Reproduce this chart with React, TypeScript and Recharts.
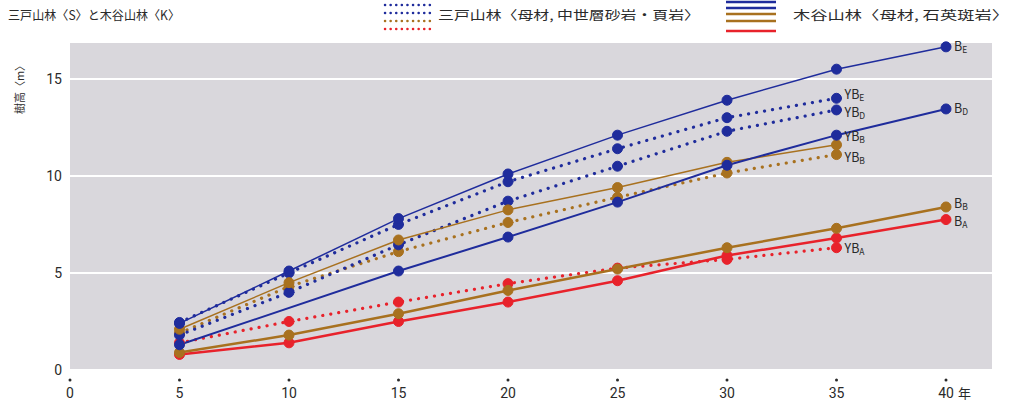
import { LineChart, Line, XAxis, YAxis, CartesianGrid } from 'recharts'

const years = [5, 10, 15, 20, 25, 30, 35, 40]
const xTicks = [0, 5, 10, 15, 20, 25, 30, 35, 40]
const yTicks = [0, 5, 10, 15]

// 木谷山林 (solid)
const bA = [0.8, 1.4, 2.5, 3.5, 4.6, 5.9, 6.8, 7.75]
const bB = [0.9, 1.8, 2.9, 4.1, 5.2, 6.3, 7.3, 8.4]
const bD = [1.3, null, 5.1, 6.85, 8.65, 10.55, 12.1, 13.45]
const bE = [2.4, 5.1, 7.8, 10.1, 12.1, 13.9, 15.5, 16.65]
const kB2 = [2.1, 4.5, 6.7, 8.25, 9.4, 10.7, 11.6, null]

// 三戸山林 (dotted)
const ybE = [2.45, 5.0, 7.5, 9.7, 11.4, 13.0, 14.0, null]
const ybD = [1.8, 4.0, 6.45, 8.7, 10.5, 12.3, 13.4, null]
const ybB = [1.9, 4.3, 6.1, 7.6, 8.9, 10.15, 11.1, null]
const ybA = [1.4, 2.5, 3.5, 4.45, 5.25, 5.7, 6.3, null]

const BLUE = '#1f2c9c'
const BROWN = '#a8711f'
const RED = '#e8222b'
const TXT = '#2a2a2a'
const FONT = '"Noto Sans CJK JP", "Noto Sans", sans-serif'

const rows = years.map((year, i) => ({
  year,
  bA: bA[i], bB: bB[i], bD: bD[i], bE: bE[i], kB2: kB2[i],
  ybE: ybE[i], ybD: ybD[i], ybB: ybB[i], ybA: ybA[i]
}))

function endLabel(main: string, sub: string, idx: number, dx = 8, dy = 0) {
  return (props: any) => {
    if (props.index !== idx) return null
    return (
      <text key={main + sub} x={props.x + dx} y={props.y + 4 + dy} fontSize={12.5} fill={TXT} fontFamily={FONT}>
        {main}
        <tspan fontSize={8.5} dy={2}>{sub}</tspan>
      </text>
    )
  }
}

const XTick = (props: any) => {
  const { x, y, payload } = props
  return (
    <g>
      <circle cx={x} cy={y + 10} r={1.5} fill={TXT} />
      <text x={x} y={y + 28} textAnchor="middle" fontSize={14} fill={TXT} fontFamily="Roboto, sans-serif">
        {payload.value}
      </text>
      {payload.value === 40 && (
        <text x={x + 12} y={y + 28} fontSize={13} fill={TXT} fontFamily={FONT}>年</text>
      )}
    </g>
  )
}

const solid = (color: string, w = 2) => ({
  stroke: color,
  strokeWidth: w,
  dot: { r: 5, fill: color, stroke: color, strokeWidth: 1 },
  isAnimationActive: false,
  connectNulls: true,
  type: 'linear' as const
})

const dotted = (color: string) => ({
  stroke: color,
  strokeWidth: 3.2,
  strokeDasharray: '0.1 8',
  strokeLinecap: 'round' as const,
  dot: { r: 5, fill: color, stroke: color, strokeWidth: 1, strokeDasharray: '' },
  isAnimationActive: false,
  type: 'linear' as const
})

function Legend() {
  return (
    <svg width={1016} height={40} style={{ position: 'absolute', left: 0, top: 0, pointerEvents: 'none' }}>
      <text x={8} y={20} fontSize={12.5} fill={TXT} fontFamily={FONT} textLength={172} lengthAdjust="spacingAndGlyphs">
        三戸山林〈S〉と木谷山林〈K〉
      </text>
      {[[5, BLUE], [13, BLUE], [21, BROWN], [29, RED]].map(([yy, c]) => (
        <line key={String(yy)} x1={385} x2={431} y1={yy as number} y2={yy as number} stroke={c as string}
          strokeWidth={2.5} strokeDasharray="0.1 5.5" strokeLinecap="round" />
      ))}
      <text x={438} y={20} fontSize={12.5} fill={TXT} fontFamily={FONT} textLength={262} lengthAdjust="spacingAndGlyphs">
        三戸山林〈母材, 中世層砂岩・頁岩〉
      </text>
      {[[2, BLUE], [8, BLUE], [14, BROWN], [21, BROWN], [31, RED]].map(([yy, c]) => (
        <line key={String(yy) + 's'} x1={726} x2={776} y1={yy as number} y2={yy as number} stroke={c as string} strokeWidth={2.5} />
      ))}
      <text x={793} y={20} fontSize={12.5} fill={TXT} fontFamily={FONT} textLength={216} lengthAdjust="spacingAndGlyphs">
        木谷山林〈母材, 石英斑岩〉
      </text>
    </svg>
  )
}

export default function App() {
  return (
    <div style={{ position: 'relative', width: 1016, height: 405, background: '#fff' }}>
      <style>{'body{margin:0}'}</style>
      <LineChart width={1016} height={405} data={rows} margin={{ top: 42, right: 24, bottom: 0, left: 0 }}>
        <CartesianGrid vertical={false} fill="#d9d7dc" stroke="#ffffff" strokeWidth={2} fillOpacity={1} />
        <XAxis
          dataKey="year"
          type="number"
          domain={[0, 42.1]}
          ticks={xTicks}
          axisLine={false}
          tickLine={false}
          tickSize={0}
          tickMargin={0}
          height={35}
          tick={<XTick />}
          interval={0}
        />
        <YAxis
          type="number"
          domain={[0, 16.9]}
          ticks={yTicks}
          axisLine={false}
          tickLine={false}
          tickSize={0}
          tickMargin={8}
          width={70}
          tick={{ fontSize: 14, fill: TXT, fontFamily: 'Roboto, sans-serif' }}
          interval={0}
        />
        <Line dataKey="ybA" {...dotted(RED)} label={endLabel('YB', 'A', 6, 8, 1)} />
        <Line dataKey="ybB" {...dotted(BROWN)} label={endLabel('YB', 'B', 6, 8, 3)} />
        <Line dataKey="ybD" {...dotted(BLUE)} label={endLabel('YB', 'D', 6, 8, 3)} />
        <Line dataKey="ybE" {...dotted(BLUE)} label={endLabel('YB', 'E', 6, 8, -3)} />
        <Line dataKey="bA" {...solid(RED, 2.5)} label={endLabel('B', 'A', 7, 8, 2)} />
        <Line dataKey="bB" {...solid(BROWN, 2.5)} label={endLabel('B', 'B', 7, 8, -3)} />
        <Line dataKey="kB2" {...solid(BROWN, 1.5)} label={endLabel('YB', 'B', 6, 8, -8)} />
        <Line dataKey="bD" {...solid(BLUE, 2)} label={endLabel('B', 'D', 7)} />
        <Line dataKey="bE" {...solid(BLUE, 1.5)} label={endLabel('B', 'E', 7)} />
      </LineChart>
      <Legend />
      <svg width={40} height={405} style={{ position: 'absolute', left: 0, top: 0, pointerEvents: 'none' }}>
        <text x={0} y={0} transform="translate(24,87) rotate(-90)" textAnchor="middle" fontSize={11} fill={TXT} fontFamily={FONT}>
          樹高〈m〉
        </text>
      </svg>
    </div>
  )
}
